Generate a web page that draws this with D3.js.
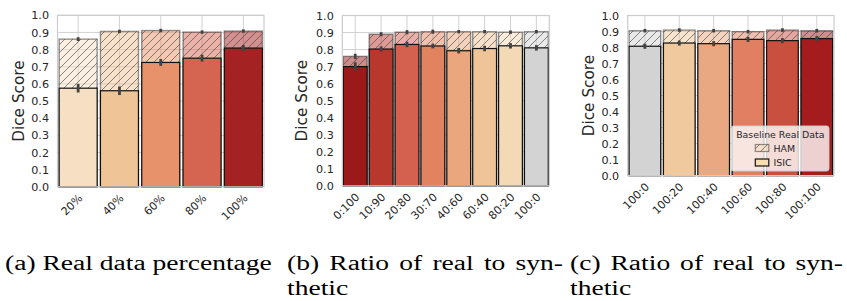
<!DOCTYPE html>
<html>
<head>
<meta charset="utf-8">
<script src="https://cdn.jsdelivr.net/npm/d3@7"></script>
<style>
  html, body { margin: 0; padding: 0; background: #fff; }
  svg { display: block; }
</style>
</head>
<body>
<svg id="chart" width="847" height="301"></svg>
<script>
// ---------------- DATA ----------------
const yTicks = [0.0, 0.1, 0.2, 0.3, 0.4, 0.5, 0.6, 0.7, 0.8, 0.9, 1.0];

// Panel (a): real data percentage
const catsA = ["20%", "40%", "60%", "80%", "100%"];
const isicA = [0.575, 0.560, 0.725, 0.750, 0.809];
const isicErrA = [0.025, 0.025, 0.020, 0.020, 0.018];
const hamA = [0.861, 0.906, 0.911, 0.902, 0.908];
const hamErrA = [0.011, 0.010, 0.010, 0.010, 0.010];

// Panel (b): ratio of real to synthetic
const catsB = ["0:100", "10:90", "20:80", "30:70", "40:60", "60:40", "80:20", "100:0"];
const isicB = [0.700, 0.803, 0.830, 0.821, 0.793, 0.806, 0.822, 0.810];
const isicErrB = [0.025, 0.016, 0.016, 0.014, 0.016, 0.016, 0.016, 0.016];
const hamB = [0.760, 0.890, 0.902, 0.905, 0.905, 0.905, 0.902, 0.905];
const hamErrB = [0.015, 0.012, 0.012, 0.012, 0.010, 0.010, 0.010, 0.010];

// Panel (c): ratio of real to synthetic (added synthetic)
const catsC = ["100:0", "100:20", "100:40", "100:60", "100:80", "100:100"];
const isicC = [0.808, 0.828, 0.824, 0.851, 0.843, 0.856];
const isicErrC = [0.016, 0.016, 0.016, 0.016, 0.016, 0.016];
const hamC = [0.905, 0.909, 0.905, 0.899, 0.909, 0.905];
const hamErrC = [0.011, 0.011, 0.011, 0.011, 0.011, 0.011];

const legendTitle = "Baseline Real Data";
const legendLabels = ["HAM", "ISIC"];
const yLabel = "Dice Score";
const captions = [
  ["(a) Real data percentage"],
  ["(b) Ratio of real to syn-", "thetic"],
  ["(c) Ratio of real to syn-", "thetic"]
];

// ---------------- STYLE ----------------
const paletteA = ["#f6dfc3", "#efc497", "#e8926b", "#d56551", "#a52222"];
const paletteB = ["#9b1919", "#b9382e", "#d4614f", "#e2835f", "#eaa67c", "#efc498", "#f4d9b6", "#d3d3d3"];
const paletteC = ["#d3d3d3", "#f0ca9e", "#eaa882", "#e07f62", "#c9503f", "#a41c1d"];

const panels = [
  { cats: catsA, isic: isicA, isicErr: isicErrA, ham: hamA, hamErr: hamErrA, colors: paletteA,
    x0: 57.5, x1: 264, yb: 186.8, yt: 15.3, ylabX: 18 },
  { cats: catsB, isic: isicB, isicErr: isicErrB, ham: hamB, hamErr: hamErrB, colors: paletteB,
    x0: 342.3, x1: 549.3, yb: 185.8, yt: 15.5, ylabX: 301 },
  { cats: catsC, isic: isicC, isicErr: isicErrC, ham: hamC, hamErr: hamErrC, colors: paletteC,
    x0: 627.7, x1: 834, yb: 175.6, yt: 15.5, ylabX: 588 }
];

const svg = d3.select("#chart");
const defs = svg.append("defs");
const pat = defs.append("pattern")
  .attr("id", "hatch").attr("patternUnits", "userSpaceOnUse")
  .attr("width", 8).attr("height", 8);
pat.append("path")
  .attr("d", "M0,8 L8,0 M-2,2 L2,-2 M6,10 L10,6")
  .attr("stroke", "#3a3a3a").attr("stroke-width", 0.8).attr("stroke-opacity", 0.75);

const sans = "DejaVu Sans, sans-serif";
const gridCol = "#cccccc";
const textCol = "#262626";

panels.forEach((p, pi) => {
  const x = d3.scaleBand().domain(p.cats).range([p.x0, p.x1]).paddingInner(0.08).paddingOuter(0.04);
  const y = d3.scaleLinear().domain([0, 1]).range([p.yb, p.yt]);
  const g = svg.append("g");

  g.append("g").selectAll("line").data(yTicks).join("line")
    .attr("x1", p.x0).attr("x2", p.x1)
    .attr("y1", d => y(d)).attr("y2", d => y(d))
    .attr("stroke", gridCol).attr("stroke-width", 0.9);
  g.append("g").selectAll("line").data(p.cats).join("line")
    .attr("x1", d => x(d) + x.bandwidth() / 2).attr("x2", d => x(d) + x.bandwidth() / 2)
    .attr("y1", p.yb).attr("y2", p.yt)
    .attr("stroke", gridCol).attr("stroke-width", 0.9);

  const yAxis = d3.axisLeft(y).tickValues(yTicks).tickFormat(d3.format(".1f")).tickSize(0).tickPadding(8.5);
  const ya = g.append("g").attr("transform", `translate(${p.x0},0)`).call(yAxis);
  ya.select(".domain").remove();
  ya.selectAll("text").attr("font-family", sans).attr("font-size", 11.2).attr("fill", textCol);

  const xAxis = d3.axisBottom(x).tickSize(0).tickPadding(0);
  const xa = g.append("g").attr("transform", `translate(0,${p.yb})`).call(xAxis);
  xa.select(".domain").remove();
  xa.selectAll("text")
    .attr("font-family", sans).attr("font-size", 11).attr("fill", textCol)
    .attr("text-anchor", "end").attr("dy", null).attr("y", null)
    .attr("transform", "translate(5,12) rotate(-45)");

  const ham = g.append("g");
  ham.selectAll("rect.fill").data(p.cats).join("rect")
    .attr("x", d => x(d)).attr("width", x.bandwidth())
    .attr("y", (d, i) => y(p.ham[i])).attr("height", (d, i) => y(0) - y(p.ham[i]))
    .attr("fill", (d, i) => p.colors[i]).attr("fill-opacity", 0.5)
    .attr("stroke", "#2a2a2a").attr("stroke-opacity", 0.5).attr("stroke-width", 1.4);
  ham.selectAll("rect.h").data(p.cats).join("rect")
    .attr("x", d => x(d)).attr("width", x.bandwidth())
    .attr("y", (d, i) => y(p.ham[i])).attr("height", (d, i) => y(0) - y(p.ham[i]))
    .attr("fill", "url(#hatch)");

  g.append("g").selectAll("rect").data(p.cats).join("rect")
    .attr("x", d => x(d)).attr("width", x.bandwidth())
    .attr("y", (d, i) => y(p.isic[i])).attr("height", (d, i) => y(0) - y(p.isic[i]))
    .attr("fill", (d, i) => p.colors[i])
    .attr("stroke", "#111").attr("stroke-width", 1.2);

  const eb = g.append("g").attr("stroke", "#424242").attr("stroke-width", 2.8);
  eb.selectAll("line.h").data(p.cats).join("line")
    .attr("x1", d => x(d) + x.bandwidth() / 2).attr("x2", d => x(d) + x.bandwidth() / 2)
    .attr("y1", (d, i) => y(p.ham[i] - p.hamErr[i])).attr("y2", (d, i) => y(p.ham[i] + p.hamErr[i]));
  eb.selectAll("line.i").data(p.cats).join("line")
    .attr("x1", d => x(d) + x.bandwidth() / 2).attr("x2", d => x(d) + x.bandwidth() / 2)
    .attr("y1", (d, i) => y(p.isic[i] - p.isicErr[i])).attr("y2", (d, i) => y(p.isic[i] + p.isicErr[i]));

  g.append("rect").attr("x", p.x0).attr("y", p.yt)
    .attr("width", p.x1 - p.x0).attr("height", p.yb - p.yt)
    .attr("fill", "none").attr("stroke", gridCol).attr("stroke-width", 1.2);

  g.append("text").text(yLabel)
    .attr("transform", `translate(${p.ylabX + 5.5},${(p.yt + p.yb) / 2}) rotate(-90)`)
    .attr("text-anchor", "middle").attr("font-family", sans).attr("font-size", 15.3).attr("fill", textCol);
});

// legend in panel c
const lg = svg.append("g");
lg.append("rect").attr("x", 731).attr("y", 126).attr("width", 98).attr("height", 45)
  .attr("rx", 2.5).attr("fill", "#ffffff").attr("fill-opacity", 0.8)
  .attr("stroke", "#d0d0d0").attr("stroke-width", 0.9);
lg.append("text").text(legendTitle).attr("x", 780.3).attr("y", 137.5)
  .attr("text-anchor", "middle").attr("font-family", sans).attr("font-size", 9.4).attr("fill", textCol);
const legCol = "#f8dcb2";
lg.append("rect").attr("x", 755.3).attr("y", 144.5).attr("width", 13.5).attr("height", 7)
  .attr("fill", legCol).attr("fill-opacity", 0.5).attr("stroke", "#2a2a2a").attr("stroke-opacity", 0.5).attr("stroke-width", 1.2);
lg.append("rect").attr("x", 755.3).attr("y", 144.5).attr("width", 13.5).attr("height", 7)
  .attr("fill", "url(#hatch)");
lg.append("rect").attr("x", 755.3).attr("y", 159).attr("width", 13.5).attr("height", 7)
  .attr("fill", legCol).attr("stroke", "#111").attr("stroke-width", 1.2);
lg.selectAll("text.l").data(legendLabels).join("text")
  .attr("x", 773.5).attr("y", (d, i) => 151.5 + i * 14.5)
  .text(d => d).attr("font-family", sans).attr("font-size", 9.4).attr("fill", textCol);

// captions: glyphs stretched to mimic Computer Modern; justified lines via word spacing
const capX = [5, 287, 570];
const capW = [267, 276, 273];
const capFont = 20;
// measure (a) to find horizontal glyph scale
const probe = svg.append("text").text(captions[0][0])
  .attr("font-family", "Liberation Serif, serif").attr("font-size", capFont);
const natA = probe.node().getComputedTextLength();
probe.remove();
const sx = capW[0] / natA;
captions.forEach((lines, ci) => {
  lines.forEach((t, li) => {
    const el = svg.append("text").text(t)
      .attr("transform", `translate(${capX[ci]},${270 + li * 25}) scale(${sx},1)`)
      .attr("font-family", "Liberation Serif, serif").attr("font-size", capFont).attr("fill", "#000");
    if (li === 0 && ci > 0) {
      const nat = el.node().getComputedTextLength() * sx;
      const nSp = (t.match(/ /g) || []).length;
      el.attr("word-spacing", (capW[ci] - nat) / nSp / sx);
    }
  });
});
</script>
</body>
</html>
